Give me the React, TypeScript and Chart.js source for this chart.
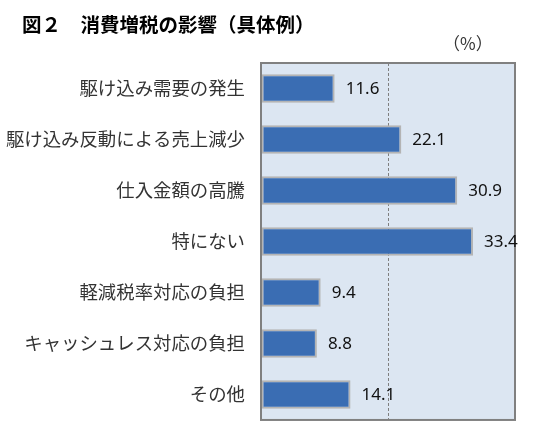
import { useEffect, useRef } from "react";
import { Chart, registerables } from "chart.js";
import type { Plugin } from "chart.js";

Chart.register(...registerables);

const categories = [
  "駆け込み需要の発生",
  "駆け込み反動による売上減少",
  "仕入金額の高騰",
  "特にない",
  "軽減税率対応の負担",
  "キャッシュレス対応の負担",
  "その他",
];
const shares = [11.6, 22.1, 30.9, 33.4, 9.4, 8.8, 14.1];
const xTicks = [0, 20, 40];

const titleText = "図２　消費増税の影響（具体例）";
const unitText = "（%）";

const CJK = '"Noto Sans CJK JP", "Noto Sans", sans-serif';

// plot background, frame, value labels and headings
const decorations: Plugin<"bar"> = {
  id: "decorations",
  beforeDraw(chart) {
    const { ctx, chartArea: a } = chart;
    ctx.save();
    ctx.fillStyle = "#dce6f2";
    ctx.fillRect(a.left, a.top, a.right - a.left, a.bottom - a.top);
    ctx.restore();
  },
  afterDatasetsDraw(chart) {
    const { ctx, chartArea: a } = chart;
    ctx.save();
    ctx.strokeStyle = "#808080";
    ctx.lineWidth = 2;
    ctx.strokeRect(a.left, a.top, a.right - a.left, a.bottom - a.top);

    const meta = chart.getDatasetMeta(0);
    ctx.font = '17px "Noto Sans", sans-serif';
    ctx.fillStyle = "#111";
    ctx.textAlign = "left";
    ctx.textBaseline = "middle";
    meta.data.forEach((bar: any, i) => {
      ctx.fillText(shares[i].toFixed(1), bar.x + 11, bar.y + 1);
    });

    ctx.fillStyle = "#000";
    ctx.font = `bold 19.5px ${CJK}`;
    ctx.fillText(titleText, 22, 25);

    ctx.fillStyle = "#333";
    ctx.font = `17px ${CJK}`;
    ctx.fillText(unitText, 443, 44);
    ctx.restore();
  },
};

export default function App() {
  const canvasRef = useRef<HTMLCanvasElement | null>(null);

  useEffect(() => {
    if (!canvasRef.current) return;

    const chart = new Chart(canvasRef.current, {
      type: "bar",
      data: {
        labels: categories,
        datasets: [
          {
            data: shares,
            backgroundColor: "#3a6db3",
            borderColor: "#b4b4b4",
            borderWidth: 2,
            borderSkipped: false,
            categoryPercentage: 1,
            barPercentage: 0.56,
          },
        ],
      },
      options: {
        indexAxis: "y",
        animation: false,
        responsive: false,
        devicePixelRatio: 1,
        layout: { padding: { top: 63, bottom: 24, right: 24, left: 0 } },
        plugins: {
          legend: { display: false },
          tooltip: { enabled: false },
          title: { display: false },
        },
        scales: {
          x: {
            min: xTicks[0],
            max: xTicks[xTicks.length - 1],
            afterBuildTicks: (scale) => {
              scale.ticks = xTicks.map((v) => ({ value: v }));
            },
            ticks: { display: false },
            // dashed gridline at 20 only
            border: { display: false, dash: [3, 2] },
            grid: {
              drawTicks: false,
              color: (c) => (c.tick && c.tick.value === 20 ? "#7f7f7f" : "rgba(0,0,0,0)"),
              lineWidth: 1,
            },
          },
          y: {
            afterFit: (scale) => {
              scale.width = 261;
            },
            border: { display: false },
            grid: { display: false, drawTicks: false },
            ticks: {
              padding: 16,
              color: "#333",
              font: { size: 18.4, family: CJK },
            },
          },
        },
      },
      plugins: [decorations],
    });

    return () => chart.destroy();
  }, []);

  return (
    <div style={{ position: "absolute", left: 0, top: 0, width: 539, height: 447, background: "#fff" }}>
      <canvas ref={canvasRef} width={539} height={447} />
    </div>
  );
}
